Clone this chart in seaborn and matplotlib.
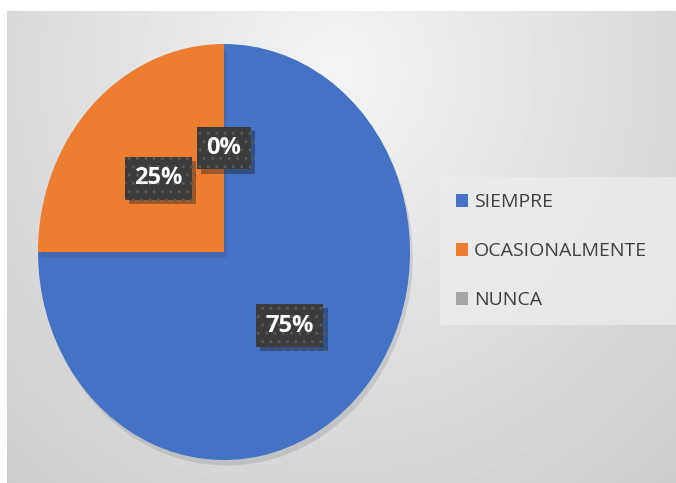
import numpy as np
import matplotlib.pyplot as plt
import matplotlib.patheffects as pe
import seaborn as sns

# data
categorias = ["SIEMPRE", "OCASIONALMENTE", "NUNCA"]
porcentajes = [75, 25, 0]
colores = ["#4472C4", "#ED7D31", "#A5A5A5"]

sns.set_theme(style="white")
plt.rcParams["font.family"] = ["Open Sans", "DejaVu Sans"]

W, H = 676, 483
fig = plt.figure(figsize=(W / 100, H / 100), dpi=100)
fig.patch.set_facecolor("white")

# --- background panel with soft gradient ---
bg = fig.add_axes([7 / W, 0, 1 - 7 / W, 1 - 11 / H])
yy, xx = np.mgrid[0:472, 0:669]
d = np.sqrt(((xx - 330) / 520) ** 2 + ((yy - 60) / 560) ** 2)
shade = np.clip(0.955 - 0.16 * d, 0.80, 0.96)
bg.imshow(shade, cmap="gray", vmin=0, vmax=1, aspect="auto", interpolation="bilinear")
bg.set_axis_off()

# --- pie ---
ax = fig.add_axes([38 / W, 23 / H, 372 / W, 416 / H])
wedges, _, autotexts = ax.pie(
    porcentajes,
    colors=colores,
    startangle=90,
    counterclock=False,
    autopct=lambda p: f"{p:.0f}%",
    pctdistance=0.5,
    wedgeprops=dict(linewidth=0),
    textprops=dict(color="white", fontsize=17, fontweight="bold"),
)
ax.set_aspect("auto")
ax.set_xlim(-1, 1)
ax.set_ylim(-1, 1)
ax.set_axis_off()

for t in autotexts:
    t.set_bbox(dict(boxstyle="square,pad=0.4", facecolor="#3b3b3b",
                    edgecolor="#585858", hatch="..", linewidth=0))
    t.get_bbox_patch().set_path_effects(
        [pe.SimplePatchShadow(offset=(3, -3), alpha=0.35), pe.Normal()])

# --- legend ---
leg = fig.legend(
    wedges, categorias,
    loc="center",
    mode="expand",
    bbox_to_anchor=(440 / W, 1 - 326 / H, 236 / W, 150 / H),
    frameon=True,
    fontsize=14,
    handlelength=0.65,
    handleheight=0.65,
    handletextpad=0.3,
    labelspacing=1.6,
    borderpad=0.8,
    borderaxespad=0,
    fancybox=False,
)
leg.get_frame().set_facecolor("#ececec")
leg.get_frame().set_edgecolor("none")
for txt in leg.get_texts():
    txt.set_color("#404040")

# soft shadow under the pie only (added after the legend so handles stay flat)
for w in wedges:
    w.set_path_effects([pe.SimplePatchShadow(offset=(2, -4), alpha=0.12), pe.Normal()])

fig.savefig("out.png", dpi=100)
